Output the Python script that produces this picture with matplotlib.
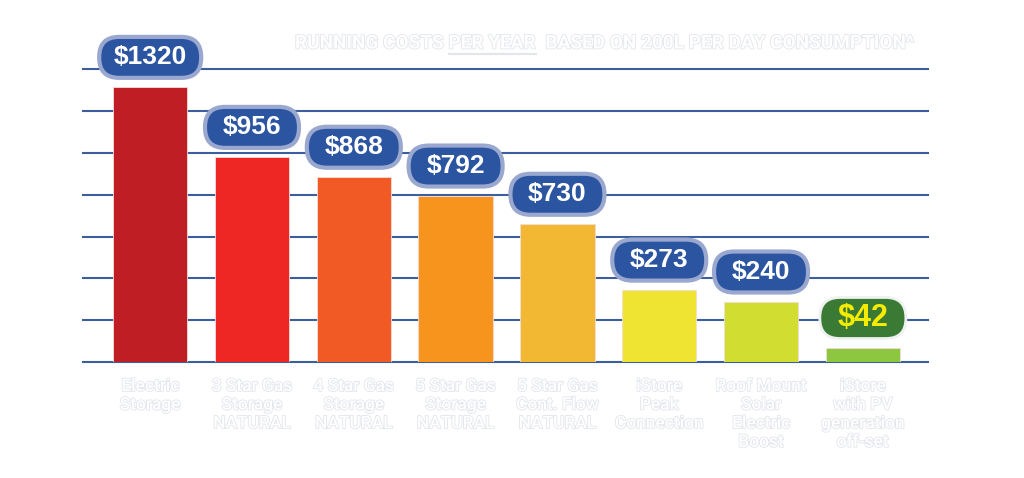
import matplotlib
matplotlib.use('Agg')
import matplotlib.pyplot as plt
from matplotlib.patches import FancyBboxPatch
from matplotlib.lines import Line2D
import matplotlib.patheffects as pe
import numpy as np
import logging
logging.getLogger('matplotlib.font_manager').setLevel(logging.ERROR)

# ---- data ----
categories = [
    "Electric\nStorage",
    "3 Star Gas\nStorage\nNATURAL",
    "4 Star Gas\nStorage\nNATURAL",
    "5 Star Gas\nStorage\nNATURAL",
    "5 Star Gas\nCont. Flow\nNATURAL",
    "iStore\nPeak\nConnection",
    "Roof Mount\nSolar\nElectric\nBoost",
    "iStore\nwith PV\ngeneration\noff-set",
]
bar_heights = [1314, 979, 884, 794, 659, 344, 287, 67]
cost_labels = ["$1320", "$956", "$868", "$792", "$730", "$273", "$240", "$42"]
bar_colors = ["#be1e24", "#ee2624", "#f15a24", "#f7941d", "#f2b834",
              "#f0e432", "#d2dd32", "#8dc63f"]
grid_values = [0, 200, 400, 600, 800, 1000, 1200, 1400]
title_parts = ["RUNNING COSTS ", "PER YEAR", "  BASED ON 200L PER DAY CONSUMPTION^"]

W, H, DPI = 1024, 478, 100
fig = plt.figure(figsize=(W / DPI, H / DPI), dpi=DPI)
fig.patch.set_facecolor("white")

ax_left, ax_right, ax_bottom, ax_top = 83, 928, 362, 69.4
ax = fig.add_axes([ax_left / W, (H - ax_bottom) / H,
                   (ax_right - ax_left) / W, (ax_bottom - ax_top) / H])
xmin, xmax = -0.66, 7.64
ax.set_xlim(xmin, xmax)
ax.set_ylim(0, 1400)
ax.axis("off")

xpx = (ax_right - ax_left) / (xmax - xmin)   # pixels per x unit
ypx = (ax_bottom - ax_top) / 1400            # pixels per y unit

for g in grid_values:
    ax.axhline(g, color="#3d5e9c", lw=1.5, zorder=1, clip_on=False)

x = np.arange(len(categories))
ax.bar(x, bar_heights, width=0.732, color=bar_colors, edgecolor="#f4dcd8",
       linewidth=0.6, zorder=2)

# value badges
for i, (h, lab) in enumerate(zip(bar_heights, cost_labels)):
    ndig = len(lab) - 1
    w_px = 70 + 8 * ndig
    h_px = 41
    cy = h + 30 / ypx
    bw = w_px / xpx
    bh = h_px / ypx
    green = (i == len(cost_labels) - 1)
    face = "#3b7a35" if green else "#2b55a0"
    edge = "#eef2ee" if green else "#9aa8d0"
    patch = FancyBboxPatch((i - bw / 2, cy - bh / 2), bw, bh,
                           boxstyle=f"round,pad=0,rounding_size={0.49 * h_px / xpx}",
                           mutation_aspect=xpx / ypx,
                           facecolor=face, edgecolor=edge,
                           linewidth=3.0 if not green else 2.0,
                           zorder=3, clip_on=False)
    ax.add_patch(patch)
    ax.text(i, cy, lab, ha="center", va="center",
            fontsize=22 if green else 19, fontweight="bold",
            family="Liberation Sans",
            color="#f6ec00" if green else "white", zorder=4, clip_on=False)

outline = [pe.withStroke(linewidth=1.2, foreground="#e2e5ec")]

# category labels (white with faint outline)
for i, cat in enumerate(categories):
    ax.text(i, -17 / ypx, cat, ha="center", va="top", fontsize=12.5,
            family="Roboto", fontweight="medium", color="white",
            linespacing=1.3, clip_on=False, path_effects=outline)

# title pieces, fitted to the width of the reference title
renderer = fig.canvas.get_renderer()
title_family = ["Liberation Sans Narrow", "Roboto"]
title_x0, title_x1, ty = 295, 913, H - 43.5
probe = fig.text(0, 0, "".join(title_parts), fontsize=16, family=title_family,
                 fontweight="bold")
pw = probe.get_window_extent(renderer).width
probe.remove()
tsize = 16 * (title_x1 - title_x0) / pw
xcur = title_x0
for k, part in enumerate(title_parts):
    t = fig.text(xcur / W, ty / H, part, ha="left", va="center", fontsize=tsize,
                 family=title_family, fontweight="bold", color="white",
                 path_effects=outline)
    bb = t.get_window_extent(renderer)
    if k == 1:
        fig.add_artist(Line2D([bb.x0 / W, bb.x1 / W], [(bb.y0 - 1) / H, (bb.y0 - 1) / H],
                              transform=fig.transFigure, color="#e2e5ec", lw=1.5))
    xcur = bb.x1

fig.savefig("out.png", dpi=DPI, facecolor="white")
